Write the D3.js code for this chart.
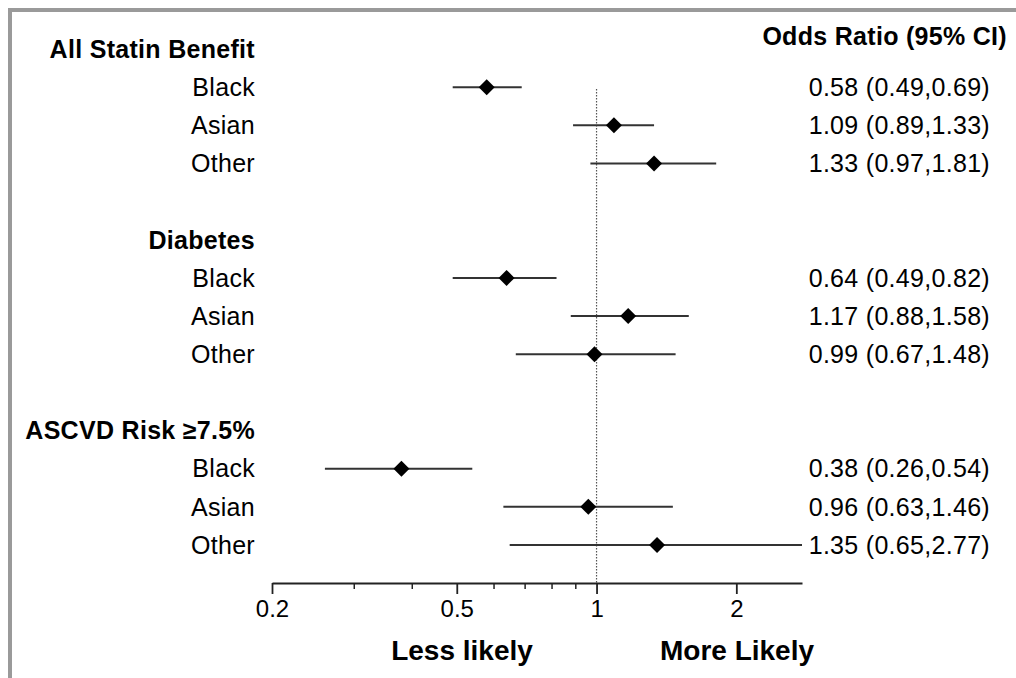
<!DOCTYPE html>
<html><head><meta charset="utf-8">
<script src="https://cdn.jsdelivr.net/npm/d3@7"></script>
<style>
html,body{margin:0;padding:0;background:#fff;}
svg{display:block;font-family:"Liberation Sans",Arial,Helvetica,sans-serif;}
</style></head>
<body>
<svg id="chart" width="1016" height="678"></svg>
<script>
// ---- data ----
const groups = ["All Statin Benefit", "Diabetes", "ASCVD Risk ≥7.5%"];
const races = ["Black", "Asian", "Other"];
const oddsRatio = [0.58, 1.09, 1.33, 0.64, 1.17, 0.99, 0.38, 0.96, 1.35];
const ciLow =     [0.49, 0.89, 0.97, 0.49, 0.88, 0.67, 0.26, 0.63, 0.65];
const ciHigh =    [0.69, 1.33, 1.81, 0.82, 1.58, 1.48, 0.54, 1.46, 2.77];
const majorTicks = [0.2, 0.5, 1, 2];
const minorTicks = [0.3, 0.4, 0.6, 0.7, 0.8, 0.9];
const tickLabels = ["0.2", "0.5", "1", "2"];
const headerRight = "Odds Ratio (95% CI)";
const directionLabels = ["Less likely", "More Likely"];

// build rows
const rows = [];
groups.forEach((g, gi) => {
  rows.push({id: "h" + gi, type: "header", label: g});
  races.forEach((r, ri) => {
    const k = gi * races.length + ri;
    rows.push({id: "r" + k, type: "item", label: r, or: oddsRatio[k], lo: ciLow[k], hi: ciHigh[k]});
  });
  if (gi < groups.length - 1) rows.push({id: "s" + gi, type: "spacer"});
});

const svg = d3.select("#chart");
const fmt = d3.format(".2f");

// border
svg.append("path")
  .attr("d", "M10,678 L10,10 L1016,10")
  .attr("fill", "none").attr("stroke", "#9a9a9a").attr("stroke-width", 4);

const x = d3.scaleLog().domain([0.2, 2.77]).range([272, 802]);
const y = d3.scalePoint().domain(rows.map(r => r.id)).range([49, 545]);
const axisY = 583;

// reference line at 1
svg.append("line")
  .attr("x1", x(1)).attr("x2", x(1))
  .attr("y1", 89).attr("y2", axisY)
  .attr("stroke", "#555").attr("stroke-width", 1.2)
  .attr("stroke-dasharray", "1.5,1.5");

// axis
const axisG = svg.append("g").attr("transform", `translate(0,${axisY})`);
axisG.call(d3.axisBottom(x).tickValues(majorTicks).tickFormat((d, i) => tickLabels[i])
    .tickSize(11).tickSizeOuter(0).tickPadding(6))
  .call(g => g.select(".domain").attr("stroke", "#222").attr("stroke-width", 1.8))
  .call(g => g.selectAll(".tick line").attr("stroke", "#222").attr("stroke-width", 1.8))
  .call(g => g.selectAll(".tick text").attr("font-size", 24).attr("fill", "#000")
    .attr("font-family", "Liberation Sans, Arial, sans-serif"));
axisG.append("g").call(d3.axisBottom(x).tickValues(minorTicks).tickFormat("").tickSize(6).tickSizeOuter(0))
  .call(g => g.select(".domain").remove())
  .call(g => g.selectAll(".tick line").attr("stroke", "#222").attr("stroke-width", 1.5));

// direction labels
svg.append("text").attr("x", 462).attr("y", 650).attr("dy", "0.35em")
  .attr("text-anchor", "middle").attr("font-weight", "bold").attr("font-size", 28)
  .text(directionLabels[0]);
svg.append("text").attr("x", 737).attr("y", 650).attr("dy", "0.35em")
  .attr("text-anchor", "middle").attr("font-weight", "bold").attr("font-size", 28)
  .text(directionLabels[1]);

// right header
svg.append("text").attr("x", 1007).attr("y", 36).attr("dy", "0.35em")
  .attr("text-anchor", "end").attr("font-weight", "bold").attr("font-size", 25)
  .attr("letter-spacing", 0.3)
  .text(headerRight);

// left labels
svg.append("g").selectAll("text").data(rows.filter(r => r.type !== "spacer")).join("text")
  .attr("x", 255).attr("y", d => y(d.id)).attr("dy", "0.35em")
  .attr("text-anchor", "end")
  .attr("font-weight", d => d.type === "header" ? "bold" : "normal")
  .attr("font-size", 25).attr("letter-spacing", 0.3)
  .text(d => d.label);

const items = rows.filter(r => r.type === "item");

// CI lines
svg.append("g").selectAll("line").data(items).join("line")
  .attr("x1", d => x(d.lo)).attr("x2", d => x(d.hi))
  .attr("y1", d => y(d.id)).attr("y2", d => y(d.id))
  .attr("stroke", "#333").attr("stroke-width", 2);

// diamonds
svg.append("g").selectAll("path").data(items).join("path")
  .attr("transform", d => `translate(${x(d.or)},${y(d.id)})`)
  .attr("d", "M0,-8 L8,0 L0,8 L-8,0 Z")
  .attr("fill", "#000");

// right values
svg.append("g").selectAll("text").data(items).join("text")
  .attr("x", 990).attr("y", d => y(d.id)).attr("dy", "0.35em")
  .attr("text-anchor", "end").attr("font-size", 25).attr("letter-spacing", 0.3)
  .text(d => `${fmt(d.or)} (${fmt(d.lo)},${fmt(d.hi)})`);
</script>
</body></html>
